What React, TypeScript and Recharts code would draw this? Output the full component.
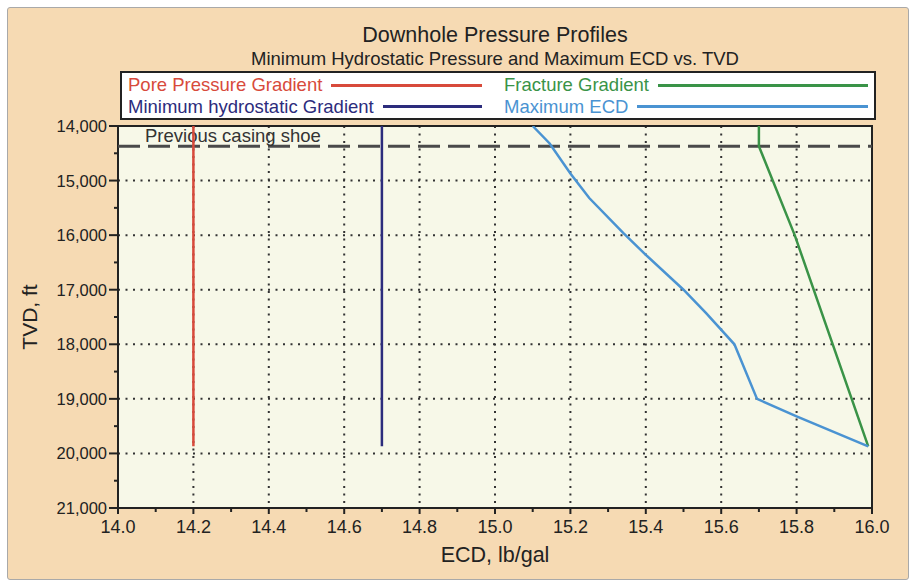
import React from "react";
import {
  CartesianGrid,
  ReferenceArea,
  ReferenceLine,
  Scatter,
  ScatterChart,
  XAxis,
  YAxis,
} from "recharts";

// depth (ft) and ECD (lb/gal)
const PORE_TVD = [14000, 19870];
const PORE_ECD = [14.2, 14.2];
const HYDRO_TVD = [14000, 19870];
const HYDRO_ECD = [14.7, 14.7];
const FRAC_TVD = [14000, 14370, 16000, 19870];
const FRAC_ECD = [15.7, 15.7, 15.795, 15.99];
const MAX_ECD_TVD = [14000, 14320, 14870, 15320, 15960, 16360, 17000, 17430, 18000, 19000, 19320, 19870];
const MAX_ECD = [15.1, 15.145, 15.2, 15.25, 15.34, 15.4, 15.5, 15.56, 15.635, 15.695, 15.8, 15.99];
const CASING_SHOE_TVD = 14370;

const X_TICKS = [14.0, 14.1, 14.2, 14.3, 14.4, 14.5, 14.6, 14.7, 14.8, 14.9, 15.0, 15.1, 15.2, 15.3, 15.4, 15.5, 15.6, 15.7, 15.8, 15.9, 16.0];
const Y_TICKS = [14000, 14500, 15000, 15500, 16000, 16500, 17000, 17500, 18000, 18500, 19000, 19500, 20000, 20500, 21000];
const X_GRID = [14.2, 14.4, 14.6, 14.8, 15.0, 15.2, 15.4, 15.6, 15.8];
const Y_GRID = [15000, 16000, 17000, 18000, 19000, 20000];

const zip = (tvd: number[], ecd: number[]) => tvd.map((t, i) => ({ tvd: t, ecd: ecd[i] }));

const FONT = '"Liberation Sans", Arial, sans-serif';
const RED = "#d84a3b";
const NAVY = "#2c2c7c";
const GREEN = "#3a9347";
const BLUE = "#4a93d2";

const SERIES = [
  { name: "Pore Pressure Gradient", color: RED, data: zip(PORE_TVD, PORE_ECD) },
  { name: "Minimum hydrostatic Gradient", color: NAVY, data: zip(HYDRO_TVD, HYDRO_ECD) },
  { name: "Fracture Gradient", color: GREEN, data: zip(FRAC_TVD, FRAC_ECD) },
  { name: "Maximum ECD", color: BLUE, data: zip(MAX_ECD_TVD, MAX_ECD) },
];

function YTick(props: any) {
  const { x, y, payload } = props;
  const major = payload.value % 1000 === 0;
  return (
    <g>
      <line x1={x - (major ? 9 : 4)} x2={x} y1={y} y2={y} stroke="#222" strokeWidth={2} />
      {major && (
        <text x={x - 11} y={y} dy={6} textAnchor="end" fontSize={16.5} fill="#222" fontFamily={FONT}>
          {payload.value.toLocaleString("en-US")}
        </text>
      )}
    </g>
  );
}

function XTick(props: any) {
  const { x, y, payload, index } = props;
  const major = index % 2 === 0;
  return (
    <g>
      <line x1={x} x2={x} y1={y} y2={y + (major ? 6 : 4)} stroke="#222" strokeWidth={2} />
      {major && (
        <text x={x} y={y + 25} textAnchor="middle" fontSize={18} fill="#222" fontFamily={FONT}>
          {payload.value.toFixed(1)}
        </text>
      )}
    </g>
  );
}

function ShoeLabel(props: any) {
  const { viewBox } = props;
  return (
    <text x={viewBox.x + 27} y={viewBox.y - 4} fontSize={18.5} fill="#333" fontFamily={FONT}>
      Previous casing shoe
    </text>
  );
}

function LegendItem({ name, color }: { name: string; color: string }) {
  return (
    <div style={{ display: "flex", alignItems: "center", height: 20 }}>
      <span style={{ color, fontSize: 18.5, whiteSpace: "nowrap" }}>{name}</span>
      <span style={{ flex: 1, height: 3, background: color, marginLeft: 9 }} />
    </div>
  );
}

export default function App() {
  return (
    <div style={{ position: "absolute", left: 0, top: 0, width: 911, height: 582, background: "#fff", fontFamily: FONT }}>
      <div
        style={{
          position: "absolute",
          left: 7,
          top: 7,
          width: 900,
          height: 571,
          background: "#f6dab3",
          border: "1px solid #a9a9a9",
          borderRadius: 3,
        }}
      />
      <div style={{ position: "absolute", left: 0, width: 990, top: 23, textAlign: "center", fontSize: 21.5, color: "#222" }}>
        Downhole Pressure Profiles
      </div>
      <div style={{ position: "absolute", left: 0, width: 990, top: 48, textAlign: "center", fontSize: 18.5, color: "#222" }}>
        Minimum Hydrostatic Pressure and Maximum ECD vs. TVD
      </div>
      <div
        style={{
          position: "absolute",
          left: 120,
          top: 71,
          width: 746,
          height: 43,
          background: "#fff",
          border: "2px solid #222",
          display: "grid",
          gridTemplateColumns: "354px 364px",
          columnGap: 22,
          padding: "2px 0 0 6px",
          boxSizing: "content-box",
        }}
      >
        <LegendItem name={SERIES[0].name} color={SERIES[0].color} />
        <LegendItem name={SERIES[2].name} color={SERIES[2].color} />
        <LegendItem name={SERIES[1].name} color={SERIES[1].color} />
        <LegendItem name={SERIES[3].name} color={SERIES[3].color} />
      </div>
      <div
        style={{
          position: "absolute",
          left: 8,
          top: 317,
          transform: "translate(-50%, -50%) rotate(-90deg)",
          marginLeft: 22,
          fontSize: 21,
          color: "#222",
          whiteSpace: "nowrap",
        }}
      >
        TVD, ft
      </div>
      <div style={{ position: "absolute", left: 0, width: 990, top: 543, textAlign: "center", fontSize: 21.5, color: "#222" }}>
        ECD, lb/gal
      </div>
      <div style={{ position: "absolute", left: 0, top: 0 }}>
        <ScatterChart width={911} height={582} margin={{ top: 126, right: 39, bottom: 44, left: 58 }}>
          <CartesianGrid
            fill="#f7f8e8"
            stroke="#333"
            strokeWidth={2}
            strokeDasharray="2 5.5"
            verticalValues={X_GRID}
            horizontalValues={Y_GRID}
          />
          <XAxis
            type="number"
            dataKey="ecd"
            domain={[14, 16]}
            ticks={X_TICKS}
            interval={0}
            tickSize={0}
            tickMargin={0}
            axisLine={false}
            tick={<XTick />}
            height={30}
            allowDataOverflow
          />
          <YAxis
            type="number"
            dataKey="tvd"
            domain={[14000, 21000]}
            reversed
            ticks={Y_TICKS}
            interval={0}
            tickSize={0}
            tickMargin={0}
            axisLine={false}
            tick={<YTick />}
            width={60}
            allowDataOverflow
          />
          <ReferenceLine
            y={CASING_SHOE_TVD}
            stroke="#4a4a4a"
            strokeWidth={3}
            strokeDasharray="22 8"
            label={<ShoeLabel />}
          />
          {SERIES.map((s) => (
            <Scatter
              key={s.name}
              name={s.name}
              data={s.data}
              fill={s.color}
              line={{ stroke: s.color, strokeWidth: 2.5 }}
              lineType="joint"
              shape={() => <g />}
              isAnimationActive={false}
            />
          ))}
          <ReferenceArea x1={14} x2={16} y1={14000} y2={21000} fill="none" stroke="#222" strokeWidth={2} ifOverflow="visible" />
        </ScatterChart>
      </div>
    </div>
  );
}
